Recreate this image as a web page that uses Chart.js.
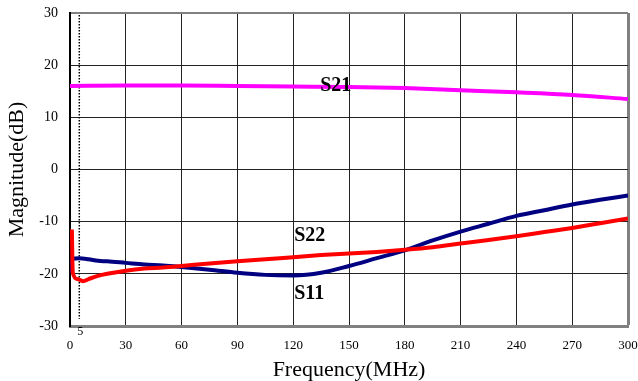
<!DOCTYPE html>
<html>
<head>
<meta charset="utf-8">
<script src="https://cdn.jsdelivr.net/npm/chart.js@4/dist/chart.umd.min.js"></script>
<style>
  body { margin: 0; background: #fff; }
  #wrap { width: 638px; height: 381px; position: relative; }
</style>
</head>
<body>
<div id="wrap"><canvas id="sparam_graph"></canvas></div>
<script>
// S-parameter sweep
var s11Freq = [0, 1.2, 5, 10, 15, 20, 30, 40, 50, 60, 75, 90, 105, 120, 135, 150, 165, 180, 195, 210, 225, 240, 255, 270, 285, 300];
var s11Db = [-19.8, -17.1, -17.0, -17.2, -17.5, -17.6, -17.9, -18.2, -18.4, -18.7, -19.2, -19.8, -20.2, -20.3, -19.8, -18.5, -17.0, -15.5, -13.6, -11.9, -10.4, -8.9, -7.8, -6.7, -5.8, -5.0];

var s21Freq = [0, 30, 60, 90, 120, 150, 180, 210, 240, 270, 300];
var s21Db = [16.0, 16.1, 16.1, 16.0, 15.9, 15.8, 15.6, 15.2, 14.8, 14.3, 13.5];

var s22Freq = [1, 1.5, 4, 7, 10, 15, 20, 30, 40, 50, 60, 75, 90, 105, 120, 135, 150, 165, 180, 195, 210, 225, 240, 255, 270, 285, 300];
var s22Db = [-11.5, -19.8, -21.0, -21.4, -21.0, -20.4, -20.0, -19.4, -19.0, -18.8, -18.5, -18.0, -17.6, -17.2, -16.8, -16.4, -16.1, -15.8, -15.4, -14.9, -14.2, -13.5, -12.8, -12.0, -11.2, -10.3, -9.4];

// dotted marker at 5 MHz
var markerFreq = [5, 5];
var markerDb = [29.6, -28.6];

// curve names written on the plot
var labelNames = ["S21", "S22", "S11"];
var labelFreq = [134.5, 120.5, 120.5];
var labelDb = [16.1, -12.7, -23.8];

function toPoints(xs, ys) {
  return xs.map(function (x, i) { return { x: x, y: ys[i] }; });
}

const curveLabels = {
  id: "curveLabels",
  afterDatasetsDraw(chart) {
    const ctx = chart.ctx;
    const xs = chart.scales.x, ys = chart.scales.y;
    ctx.save();
    ctx.fillStyle = "#000";
    ctx.font = "bold 20px 'Liberation Serif'";
    ctx.textAlign = "left";
    ctx.textBaseline = "middle";
    labelNames.forEach((name, i) => {
      ctx.fillText(name, xs.getPixelForValue(labelFreq[i]), ys.getPixelForValue(labelDb[i]));
    });
    // small "5" under the dotted marker
    ctx.font = "12px 'Liberation Serif'";
    ctx.textAlign = "center";
    ctx.fillText("5", xs.getPixelForValue(markerFreq[0]) + 1, chart.chartArea.bottom + 6);
    ctx.restore();
  },
};

const data_sparam = {
  datasets: [
    {
      label: "S22",
      data: toPoints(s22Freq, s22Db),
      borderColor: "#ff0000",
      borderWidth: 4,
      pointRadius: 0,
      cubicInterpolationMode: "monotone",
    },
    {
      label: "S11",
      data: toPoints(s11Freq, s11Db),
      borderColor: "#000080",
      borderWidth: 4,
      pointRadius: 0,
      cubicInterpolationMode: "monotone",
    },
    {
      label: "S21",
      data: toPoints(s21Freq, s21Db),
      borderColor: "#ff00ff",
      borderWidth: 4,
      pointRadius: 0,
      cubicInterpolationMode: "monotone",
    },
    {
      label: "marker",
      data: toPoints(markerFreq, markerDb),
      borderColor: "#000",
      borderWidth: 1.5,
      borderDash: [1.5, 1.5],
      pointRadius: 0,
    },
  ],
};

const config_sparam = {
  type: "line",
  data: data_sparam,
  options: {
    responsive: true,
    maintainAspectRatio: false,
    animation: false,
    layout: { padding: { top: 13, right: 10, left: 0, bottom: 0 } },
    plugins: { legend: { display: false }, tooltip: { enabled: false } },
    scales: {
      x: {
        type: "linear",
        min: 0,
        max: 300,
        ticks: {
          stepSize: 30,
          padding: 12,
          color: "#000",
          font: { family: "'Liberation Serif'", size: 13 },
          maxRotation: 0,
        },
        grid: {
          drawTicks: false,
          color: (c) => (c.tick && c.tick.value === 300 ? "#808080" : "#222"),
          lineWidth: (c) => (c.tick && c.tick.value === 300 ? 3 : 1),
        },
        border: { color: "#808080", width: 3 },
        title: {
          display: true,
          text: "Frequency(MHz)",
          color: "#000",
          font: { family: "'Liberation Serif'", size: 22, lineHeight: 1 },
          padding: 0,
        },
        afterFit: (scale) => {
          scale.height = 55;
          scale.paddingLeft = 0;
          scale.paddingRight = 0;
        },
      },
      y: {
        min: -30,
        max: 30,
        ticks: {
          stepSize: 10,
          padding: 12,
          color: "#000",
          font: { family: "'Liberation Serif'", size: 14 },
        },
        grid: {
          drawTicks: false,
          color: (c) => (c.tick && c.tick.value === 30 ? "#808080" : "#222"),
          lineWidth: (c) => (c.tick && c.tick.value === 30 ? 2 : 1),
        },
        border: { color: "#000", width: 2 },
        title: {
          display: true,
          text: "Magnitude(dB)",
          color: "#000",
          font: { family: "'Liberation Serif'", size: 22, lineHeight: 1 },
          padding: { top: 6, bottom: 0 },
        },
        afterFit: (scale) => {
          scale.width = 70;
          scale.paddingTop = 0;
          scale.paddingBottom = 0;
        },
      },
    },
  },
  plugins: [curveLabels],
};

new Chart(document.getElementById("sparam_graph"), config_sparam);
</script>
</body>
</html>
